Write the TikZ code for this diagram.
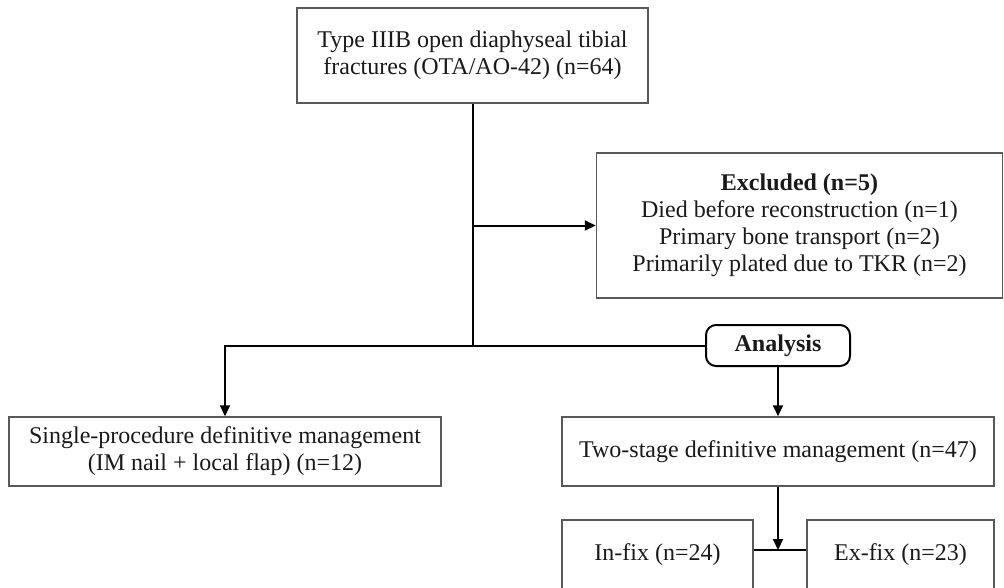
\documentclass[tikz,border=0pt]{standalone}
\usepackage{fontspec}
\setmainfont{Liberation Serif}
\usetikzlibrary{arrows.meta}
\definecolor{boxgray}{HTML}{595959}
\definecolor{txt}{HTML}{1A1A1A}
\begin{document}
\begin{tikzpicture}[x=1pt,y=-1pt,
  box/.style={draw=boxgray, line width=1.5pt, inner sep=0pt, align=center,
    font=\fontsize{24}{27}\selectfont, text=txt},
  conn/.style={line width=2pt, draw=black},
  arr/.style={conn, -{Triangle[length=11pt,width=10pt]}},
]
\useasboundingbox (0,0) rectangle (1004,587);
\clip (0,0) rectangle (1004,587);
\fill[white] (0,0) rectangle (1004,587);

\node[box, minimum width=351pt, minimum height=95pt] (top) at (472.5,55.5)
  {Type IIIB open diaphyseal tibial\\fractures (OTA/AO-42) (n=64)};
\node[box, minimum width=406pt, minimum height=145pt] (ex) at (799.5,225.5)
  {\textbf{Excluded (n=5)}\\Died before reconstruction (n=1)\\Primary bone transport (n=2)\\Primarily plated due to TKR (n=2)};
\node[draw=black, line width=2pt, rounded corners=10pt, minimum width=144pt, minimum height=41pt,
  inner sep=0pt, font=\bfseries\fontsize{24}{27}\selectfont, text=txt] (an) at (778,345.5) {Analysis};
\node[box, minimum width=432pt, minimum height=69pt] (single) at (225,451.5)
  {Single-procedure definitive management\\(IM nail + local flap) (n=12)};
\node[box, minimum width=432pt, minimum height=69pt] (two) at (778,451.5)
  {Two-stage definitive management (n=47)};
\node[box, minimum width=191pt, minimum height=70pt] (infix) at (657.5,555)
  {In-fix (n=24)};
\node[box, minimum width=187pt, minimum height=70pt] (exfix) at (900.5,555)
  {Ex-fix (n=23)};

\coordinate (lc) at (225,345.5);
\coordinate (jn) at (778,550);

\draw[conn] (top.south) -- (top.south |- an.west);
\draw[arr] (an.west) -- (lc) -- (single.north);
\draw[arr] (top.south |- ex.west) -- (ex.west);
\draw[arr] (an.south) -- (two.north);
\draw[arr] (two.south) -- (jn);
\draw[conn] (infix.east |- jn) -- (exfix.west |- jn);
\end{tikzpicture}
\end{document}
